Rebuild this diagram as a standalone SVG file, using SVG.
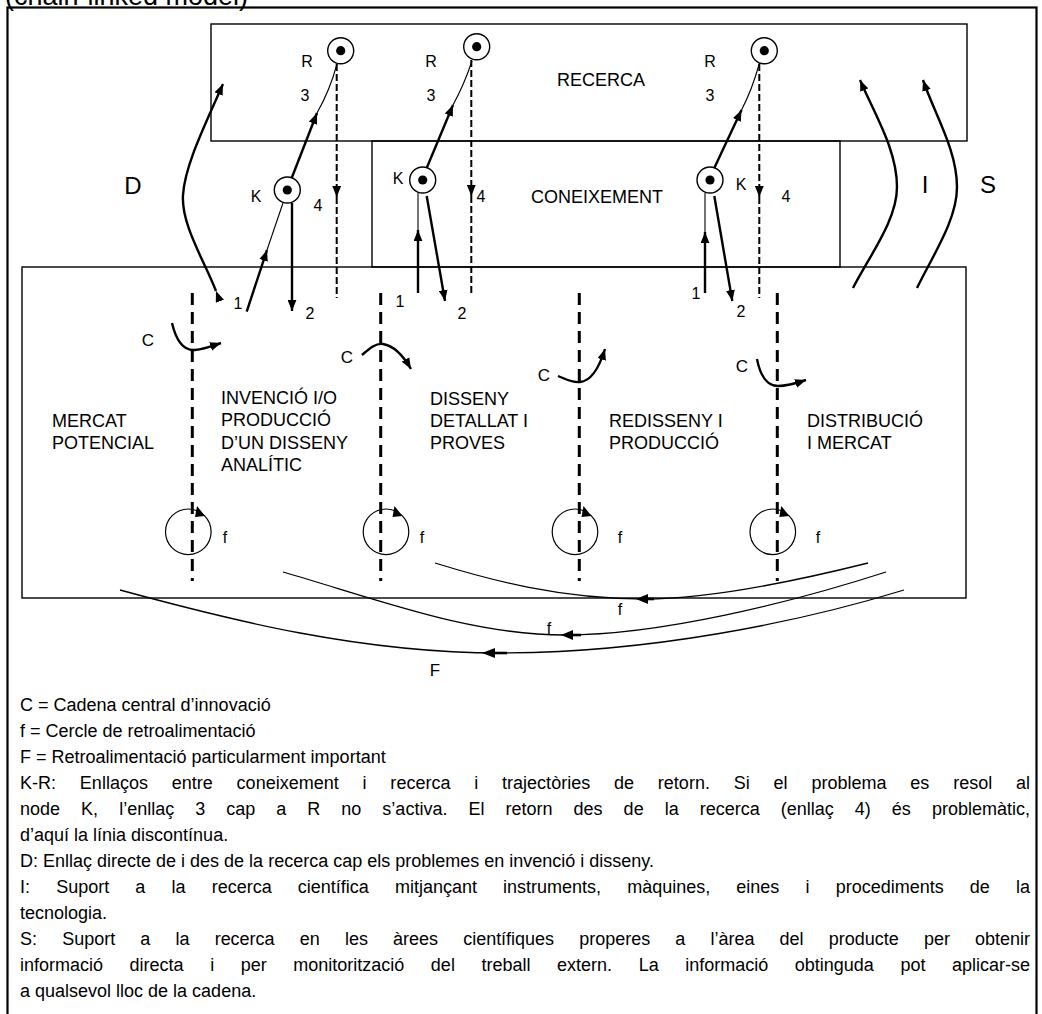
<svg xmlns="http://www.w3.org/2000/svg" width="1042" height="1014" viewBox="0 0 1042 1014">
  <style>
    text { font-family: "Liberation Sans", Arial, sans-serif; fill: #000; }
    .box { fill: none; stroke: #000; stroke-width: 1.4; }
    .frame { fill: none; stroke: #000; stroke-width: 2.2; }
    .lbl { font-size: 16px; }
    .big { font-size: 24px; }
    .area { font-size: 18px; }
    .stage { font-size: 18px; }
    .leg { font-size: 18px; }
    .thick { fill: none; stroke: #000; stroke-width: 2.4; }
    .thin { fill: none; stroke: #000; stroke-width: 1.1; }
    .dash4 { fill: none; stroke: #000; stroke-width: 2; stroke-dasharray: 7 3; }
    .chain { fill: none; stroke: #000; stroke-width: 3; stroke-dasharray: 12 7; }
    .loop { fill: none; stroke: #000; stroke-width: 1.2; }
    .fb { fill: none; stroke: #000; stroke-width: 1.3; }
    .node circle.o { fill: #fff; stroke: #000; stroke-width: 1.4; }
  </style>
  <defs>
    <marker id="ah" viewBox="0 0 10 8" refX="10" refY="4" markerWidth="11" markerHeight="9" markerUnits="userSpaceOnUse" orient="auto">
      <path d="M0,0 L10,4 L0,8 z" fill="#000"/>
    </marker>
  </defs>

  <rect width="1042" height="1014" fill="#fff"/>

  <!-- caption, clipped at the top edge -->
  <text x="5" y="5" font-size="27">(chain-linked model)</text>

  <!-- outer frame -->
  <rect class="frame" x="7.5" y="7.5" width="1029" height="1030"/>

  <!-- areas -->
  <g id="recerca">
    <rect class="box" x="211" y="24" width="756" height="117"/>
    <text class="area" x="601" y="86" text-anchor="middle">RECERCA</text>
  </g>
  <g id="coneixement">
    <rect class="box" x="372" y="141" width="468" height="126"/>
    <text class="area" x="597" y="203" text-anchor="middle">CONEIXEMENT</text>
  </g>
  <g id="cadena">
    <rect class="box" x="22" y="267" width="944" height="331"/>
  </g>

  <!-- stages of the chain -->
  <g id="mercat-potencial">
    <text class="stage" x="52" y="427">MERCAT</text>
    <text class="stage" x="52" y="449">POTENCIAL</text>
  </g>
  <g id="invencio">
    <text class="stage" x="221" y="404">INVENCIÓ I/O</text>
    <text class="stage" x="221" y="426">PRODUCCIÓ</text>
    <text class="stage" x="221" y="449">D’UN DISSENY</text>
    <text class="stage" x="221" y="471">ANALÍTIC</text>
  </g>
  <g id="disseny">
    <text class="stage" x="430" y="405">DISSENY</text>
    <text class="stage" x="430" y="427">DETALLAT I</text>
    <text class="stage" x="430" y="449">PROVES</text>
  </g>
  <g id="redisseny">
    <text class="stage" x="609" y="427">REDISSENY I</text>
    <text class="stage" x="609" y="449">PRODUCCIÓ</text>
  </g>
  <g id="distribucio">
    <text class="stage" x="807" y="427">DISTRIBUCIÓ</text>
    <text class="stage" x="807" y="449">I MERCAT</text>
  </g>

  <!-- D, I, S labels -->
  <text class="big" x="133" y="194" text-anchor="middle">D</text>
  <text class="big" x="925" y="193" text-anchor="middle">I</text>
  <text class="big" x="988" y="193" text-anchor="middle">S</text>

  <!-- connectors -->
  <g id="connectors">
    <!-- stage boundaries -->
    <line class="chain" x1="192.3" y1="293" x2="192.3" y2="581"/>
    <line class="chain" x1="380.7" y1="293" x2="380.7" y2="581"/>
    <line class="chain" x1="579.3" y1="293" x2="579.3" y2="581"/>
    <line class="chain" x1="777.3" y1="293" x2="777.3" y2="581"/>

    <!-- central chain C -->
    <path class="thick" d="M172,323 C176,340 183,351 195,350 C205,349 212,346 221,343" marker-end="url(#ah)"/>
    <path class="thick" d="M362,355 C370,348 376,343 383,344 C395,346 404,357 411,369" marker-end="url(#ah)"/>
    <path class="thick" d="M558,376 C566,379 572,383 580,382 C592,381 600,365 605,349" marker-end="url(#ah)"/>
    <path class="thick" d="M757,359 C760,375 767,386 778,386 C788,386 797,383 806,380" marker-end="url(#ah)"/>

    <!-- D: direct link research <-> chain -->
    <path class="thick" d="M216,291 C205,262 181,225 183,195 C185,165 205,125 223,84" marker-start="url(#ah)" marker-end="url(#ah)"/>
    <!-- I and S: support to research -->
    <path class="thick" d="M853,288 C870,255 897,220 897,187 C897,150 875,115 860,80" marker-end="url(#ah)"/>
    <path class="thick" d="M917,288 C933,255 957,220 957,187 C957,150 935,115 923,80" marker-end="url(#ah)"/>

    <!-- link 3: K -> R -->
    <line class="thick" x1="291.7" y1="178" x2="317" y2="113" marker-end="url(#ah)"/>
    <path class="thin" d="M317,113 Q330,90 337,64"/>
    <line class="thick" x1="426.7" y1="168" x2="453" y2="105" marker-end="url(#ah)"/>
    <path class="thin" d="M453,105 Q464,85 472,61"/>
    <line class="thick" x1="714.3" y1="168" x2="741.5" y2="110" marker-end="url(#ah)"/>
    <path class="thin" d="M741.5,110 Q752,90 759.5,63"/>

    <!-- link 4: R -> chain (dashed) -->
    <line class="dash4" x1="336.7" y1="64" x2="336.7" y2="197" marker-end="url(#ah)"/>
    <line class="dash4" x1="336.7" y1="197" x2="336.7" y2="298"/>
    <line class="dash4" x1="471.3" y1="60" x2="471.3" y2="196" marker-end="url(#ah)"/>
    <line class="dash4" x1="471.3" y1="196" x2="471.3" y2="293"/>
    <line class="dash4" x1="759.3" y1="64" x2="759.3" y2="197" marker-end="url(#ah)"/>
    <line class="dash4" x1="759.3" y1="197" x2="759.3" y2="298"/>

    <!-- link 1: chain -> K -->
    <line class="thick" x1="246.7" y1="311.7" x2="267" y2="250" marker-end="url(#ah)"/>
    <line class="thin" x1="267" y1="250" x2="283" y2="203"/>
    <line class="thick" x1="418" y1="293" x2="418" y2="230" marker-end="url(#ah)"/>
    <line class="thin" x1="418" y1="230" x2="418" y2="193"/>
    <line class="thick" x1="705" y1="293" x2="705" y2="232" marker-end="url(#ah)"/>
    <line class="thin" x1="705" y1="232" x2="705" y2="193"/>

    <!-- link 2: K -> chain -->
    <line class="thick" x1="292" y1="203" x2="292" y2="311" marker-end="url(#ah)"/>
    <line class="thick" x1="426.7" y1="196" x2="445" y2="301" marker-end="url(#ah)"/>
    <line class="thick" x1="714.3" y1="196" x2="732.3" y2="301" marker-end="url(#ah)"/>

    <!-- feedback loops f -->
    <circle class="loop" cx="188.3" cy="531.8" r="22.8"/>
    <polygon points="197,506 205,516 195,517" fill="#000"/>
    <circle class="loop" cx="386" cy="531.8" r="22.8"/>
    <polygon points="394.5,506 402.5,516 392.5,517" fill="#000"/>
    <circle class="loop" cx="575" cy="531.8" r="22.8"/>
    <polygon points="583.5,506 591.5,516 581.5,517" fill="#000"/>
    <circle class="loop" cx="772.8" cy="531.8" r="22.8"/>
    <polygon points="781.3,506 789.3,516 779.3,517" fill="#000"/>

    <!-- feedback paths f, f, F -->
    <path class="fb" d="M868,563 C780,585 700,599 645,599 C560,599 490,580 435,563"/>
    <line x1="654" y1="599" x2="645" y2="599" stroke="#000" stroke-width="2.6"/>
    <polygon points="636,599 648,594 648,604" fill="#000"/>
    <path class="fb" d="M886,572 C790,603 660,635 565,635 C470,635 380,600 283,572"/>
    <line x1="581" y1="635" x2="568" y2="635" stroke="#000" stroke-width="2.6"/>
    <polygon points="561,635 573,630 573,640" fill="#000"/>
    <path class="fb" d="M904,590 C800,622 650,653 500,653 C360,653 230,620 120,590"/>
    <line x1="507" y1="653" x2="492" y2="653" stroke="#000" stroke-width="2.6"/>
    <polygon points="482,653 495,648 495,658" fill="#000"/>
  </g>

  <!-- R nodes -->
  <g id="R1" class="node"><circle class="o" cx="340.7" cy="50.7" r="13"/><circle cx="340.7" cy="50.7" r="4.6"/></g>
  <g id="R2" class="node"><circle class="o" cx="476.7" cy="46.7" r="13"/><circle cx="476.7" cy="46.7" r="4.6"/></g>
  <g id="R3" class="node"><circle class="o" cx="764.3" cy="50.7" r="13"/><circle cx="764.3" cy="50.7" r="4.6"/></g>
  <!-- K nodes -->
  <g id="K1" class="node"><circle class="o" cx="287.3" cy="190" r="13"/><circle cx="287.3" cy="190" r="4.6"/></g>
  <g id="K2" class="node"><circle class="o" cx="422.7" cy="180" r="13"/><circle cx="422.7" cy="180" r="4.6"/></g>
  <g id="K3" class="node"><circle class="o" cx="710" cy="180" r="13"/><circle cx="710" cy="180" r="4.6"/></g>

  <!-- small labels -->
  <g id="labels">
    <text class="lbl" x="307" y="67" text-anchor="middle">R</text>
    <text class="lbl" x="305" y="101" text-anchor="middle">3</text>
    <text class="lbl" x="431" y="67" text-anchor="middle">R</text>
    <text class="lbl" x="431" y="101" text-anchor="middle">3</text>
    <text class="lbl" x="710" y="67" text-anchor="middle">R</text>
    <text class="lbl" x="710" y="101" text-anchor="middle">3</text>

    <text class="lbl" x="256" y="202" text-anchor="middle">K</text>
    <text class="lbl" x="398" y="184" text-anchor="middle">K</text>
    <text class="lbl" x="741" y="190" text-anchor="middle">K</text>
    <text class="lbl" x="318" y="211" text-anchor="middle">4</text>
    <text class="lbl" x="481" y="202" text-anchor="middle">4</text>
    <text class="lbl" x="786" y="202" text-anchor="middle">4</text>

    <text class="lbl" x="238" y="309" text-anchor="middle">1</text>
    <text class="lbl" x="310" y="319" text-anchor="middle">2</text>
    <text class="lbl" x="400" y="307" text-anchor="middle">1</text>
    <text class="lbl" x="462" y="319" text-anchor="middle">2</text>
    <text class="lbl" x="696" y="299" text-anchor="middle">1</text>
    <text class="lbl" x="741" y="317" text-anchor="middle">2</text>

    <text x="148" y="346" font-size="17" text-anchor="middle">C</text>
    <text x="347" y="363" font-size="17" text-anchor="middle">C</text>
    <text x="544" y="381" font-size="17" text-anchor="middle">C</text>
    <text x="742" y="372" font-size="17" text-anchor="middle">C</text>

    <text x="225" y="543" font-size="16" text-anchor="middle">f</text>
    <text x="422" y="543" font-size="16" text-anchor="middle">f</text>
    <text x="620" y="543" font-size="16" text-anchor="middle">f</text>
    <text x="818" y="543" font-size="16" text-anchor="middle">f</text>
    <text x="620" y="615" font-size="16" text-anchor="middle">f</text>
    <text x="549" y="634" font-size="16" text-anchor="middle">f</text>
    <text x="435" y="676" font-size="17" text-anchor="middle">F</text>
  </g>

  <!-- legend: full lines are justified by widening the word gaps -->
  <g id="legend">
    <text class="leg" x="20" y="711">C = Cadena central d’innovació</text>
    <text class="leg" x="20" y="737">f = Cercle de retroalimentació</text>
    <text class="leg" x="20" y="763">F = Retroalimentació particularment important</text>
    <text class="leg" x="20" y="789" word-spacing="18.8" textLength="1010" lengthAdjust="spacing">K-R: Enllaços entre coneixement i recerca i trajectòries de retorn. Si el problema es resol al</text>
    <text class="leg" x="20" y="815" word-spacing="16" textLength="1010" lengthAdjust="spacing">node K, l’enllaç 3 cap a R no s’activa. El retorn des de la recerca (enllaç 4) és problemàtic,</text>
    <text class="leg" x="20" y="841">d’aquí la línia discontínua.</text>
    <text class="leg" x="20" y="867">D: Enllaç directe de i des de la recerca cap els problemes en invenció i disseny.</text>
    <text class="leg" x="20" y="893" word-spacing="21.2" textLength="1010" lengthAdjust="spacing">I: Suport a la recerca científica mitjançant instruments, màquines, eines i procediments de la</text>
    <text class="leg" x="20" y="919">tecnologia.</text>
    <text class="leg" x="20" y="945" word-spacing="20.2" textLength="1010" lengthAdjust="spacing">S: Suport a la recerca en les àrees científiques properes a l’àrea del producte per obtenir</text>
    <text class="leg" x="20" y="971" word-spacing="21.6" textLength="1010" lengthAdjust="spacing">informació directa i per monitorització del treball extern. La informació obtinguda pot aplicar-se</text>
    <text class="leg" x="20" y="997">a qualsevol lloc de la cadena.</text>
  </g>
</svg>
